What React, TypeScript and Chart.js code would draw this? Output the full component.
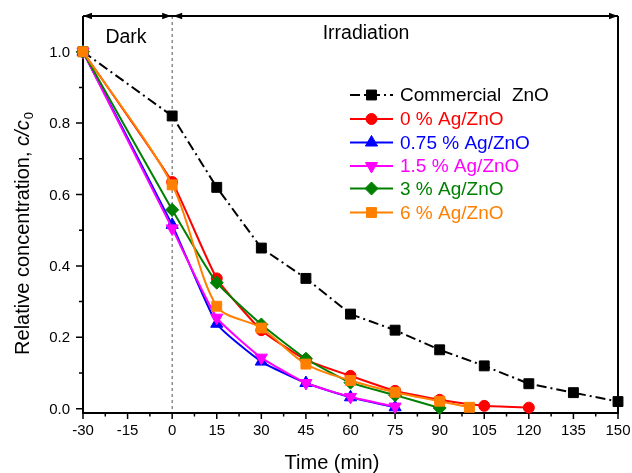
import React, { useEffect, useRef } from "react";
import { Chart, registerables } from "chart.js";

Chart.register(...registerables);

// ---- data ----
const timeCommercial = [-30, 0, 15, 30, 45, 60, 75, 90, 105, 120, 135, 150];
const commercialZnO = [1.0, 0.82, 0.62, 0.45, 0.365, 0.265, 0.22, 0.165, 0.12, 0.07, 0.045, 0.02];
const time0 = [-30, 0, 15, 30, 45, 60, 75, 90, 105, 120];
const ag0 = [1.0, 0.635, 0.365, 0.22, 0.137, 0.092, 0.05, 0.025, 0.008, 0.003];
const time075 = [-30, 0, 15, 30, 45, 60, 75];
const ag075 = [1.0, 0.515, 0.238, 0.132, 0.072, 0.032, 0.004];
const time15 = [-30, 0, 15, 30, 45, 60, 75];
const ag15 = [1.0, 0.505, 0.255, 0.143, 0.072, 0.033, 0.006];
const time3 = [-30, 0, 15, 30, 45, 60, 75, 90];
const ag3 = [1.0, 0.557, 0.353, 0.236, 0.14, 0.073, 0.038, 0.002];
const time6 = [-30, 0, 15, 30, 45, 60, 75, 90, 100];
const ag6 = [1.0, 0.627, 0.287, 0.226, 0.125, 0.079, 0.046, 0.021, 0.004];

const seriesLabels = ["Commercial  ZnO", "0 % Ag/ZnO", "0.75 % Ag/ZnO", "1.5 % Ag/ZnO", "3 % Ag/ZnO", "6 % Ag/ZnO"];
const seriesColors = ["#000000", "#ff0000", "#0000ff", "#ff00ff", "#008000", "#ff8000"];
const seriesMarkers = ["rect", "circle", "triangle", "triangleDown", "rectRot", "rect"];
const seriesRadius = [7, 5.5, 7, 7, 6.5, 7];
const seriesTension = [0, 0.15, 0.15, 0.15, 0.15, 0.3];

const xTicks = [-30, -15, 0, 15, 30, 45, 60, 75, 90, 105, 120, 135, 150];
const yTicks = [0, 0.2, 0.4, 0.6, 0.8, 1.0];
const yTickLabels = ["0.0", "0.2", "0.4", "0.6", "0.8", "1.0"];

const FONT = "'Liberation Sans', Arial, sans-serif";
const blackDash = [10, 4, 2, 4];

function zip(xs: number[], ys: number[]) {
  return xs.map((x, i) => ({ x, y: ys[i] }));
}

function drawMarker(ctx: CanvasRenderingContext2D, type: string, x: number, y: number, r: number, color: string) {
  ctx.save();
  ctx.setLineDash([]);
  ctx.fillStyle = color;
  ctx.strokeStyle = color;
  ctx.lineWidth = 1;
  ctx.beginPath();
  if (type === "circle") {
    ctx.arc(x, y, r, 0, Math.PI * 2);
  } else if (type === "rect") {
    const s = r * Math.SQRT1_2;
    ctx.rect(x - s, y - s, 2 * s, 2 * s);
  } else if (type === "rectRot") {
    ctx.moveTo(x, y - r);
    ctx.lineTo(x + r, y);
    ctx.lineTo(x, y + r);
    ctx.lineTo(x - r, y);
    ctx.closePath();
  } else if (type === "triangle" || type === "triangleDown") {
    const a0 = type === "triangle" ? 0 : Math.PI;
    for (let k = 0; k < 3; k++) {
      const a = a0 + (k * 2 * Math.PI) / 3;
      const px = x + Math.sin(a) * r;
      const py = y - Math.cos(a) * r;
      if (k === 0) ctx.moveTo(px, py);
      else ctx.lineTo(px, py);
    }
    ctx.closePath();
  }
  ctx.fill();
  ctx.stroke();
  ctx.restore();
}

function arrowHead(ctx: CanvasRenderingContext2D, tipX: number, y: number, dir: number) {
  const len = 9;
  const hw = 3.2;
  ctx.beginPath();
  ctx.moveTo(tipX, y);
  ctx.lineTo(tipX - dir * len, y - hw);
  ctx.lineTo(tipX - dir * len, y + hw);
  ctx.closePath();
  ctx.fill();
}

const framePlugin = {
  id: "framePlugin",
  beforeDatasetsDraw(chart: any) {
    const ctx: CanvasRenderingContext2D = chart.ctx;
    const { left: L, right: R, top: T, bottom: B } = chart.chartArea;
    const xs = chart.scales.x;
    const ys = chart.scales.y;
    ctx.save();
    // dotted separator at t = 0
    const x0 = xs.getPixelForValue(0);
    ctx.strokeStyle = "#555";
    ctx.lineWidth = 1;
    ctx.setLineDash([3, 3]);
    ctx.beginPath();
    ctx.moveTo(x0, T);
    ctx.lineTo(x0, B);
    ctx.stroke();
    ctx.setLineDash([]);

    // frame
    ctx.strokeStyle = "#000";
    ctx.fillStyle = "#000";
    ctx.lineWidth = 2;
    ctx.beginPath();
    ctx.moveTo(L, T);
    ctx.lineTo(L, B);
    ctx.lineTo(R, B);
    ctx.lineTo(R, T);
    ctx.stroke();
    ctx.beginPath();
    ctx.moveTo(L, T);
    ctx.lineTo(R, T);
    ctx.stroke();
    arrowHead(ctx, L, T, -1);
    arrowHead(ctx, x0 - 1, T, 1);
    arrowHead(ctx, x0 + 1, T, -1);
    arrowHead(ctx, R, T, 1);

    // x ticks
    ctx.lineWidth = 1.5;
    ctx.beginPath();
    for (let i = 0; i < xTicks.length; i++) {
      const px = xs.getPixelForValue(xTicks[i]);
      ctx.moveTo(px, B);
      ctx.lineTo(px, B + 6);
      if (i < xTicks.length - 1) {
        const pm = xs.getPixelForValue((xTicks[i] + xTicks[i + 1]) / 2);
        ctx.moveTo(pm, B);
        ctx.lineTo(pm, B + 3.5);
      }
    }
    // y ticks
    for (let i = 0; i < yTicks.length; i++) {
      const py = ys.getPixelForValue(yTicks[i]);
      ctx.moveTo(L, py);
      ctx.lineTo(L - 7, py);
      if (i < yTicks.length - 1) {
        const pm = ys.getPixelForValue((yTicks[i] + yTicks[i + 1]) / 2);
        ctx.moveTo(L, pm);
        ctx.lineTo(L - 4, pm);
      }
    }
    ctx.stroke();

    // tick labels
    ctx.fillStyle = "#000";
    ctx.font = `15px ${FONT}`;
    ctx.textAlign = "center";
    ctx.textBaseline = "top";
    xTicks.forEach((t) => {
      ctx.fillText(String(t), xs.getPixelForValue(t), B + 10);
    });
    ctx.textAlign = "right";
    ctx.textBaseline = "middle";
    yTicks.forEach((t, i) => {
      ctx.fillText(yTickLabels[i], L - 13, ys.getPixelForValue(t) + 1);
    });

    // x title
    ctx.font = `20px ${FONT}`;
    ctx.textAlign = "center";
    ctx.textBaseline = "alphabetic";
    ctx.fillText("Time (min)", 332, 469);

    // y title (rotated, with italic c/c and subscript 0)
    ctx.save();
    ctx.translate(29, 234);
    ctx.rotate(-Math.PI / 2);
    const partA = "Relative concentration, ";
    const partB = "c/c";
    const partC = "0";
    ctx.font = `20px ${FONT}`;
    const wA = ctx.measureText(partA).width;
    ctx.font = `italic 20px ${FONT}`;
    const wB = ctx.measureText(partB).width;
    ctx.font = `13px ${FONT}`;
    const wC = ctx.measureText(partC).width;
    const total = wA + wB + wC;
    let cx = -total / 2;
    ctx.textAlign = "left";
    ctx.font = `20px ${FONT}`;
    ctx.fillText(partA, cx, 0);
    cx += wA;
    ctx.font = `italic 20px ${FONT}`;
    ctx.fillText(partB, cx, 0);
    cx += wB;
    ctx.font = `13px ${FONT}`;
    ctx.fillText(partC, cx + 1, 4);
    ctx.restore();

    // region labels
    ctx.font = `19.5px ${FONT}`;
    ctx.textAlign = "center";
    ctx.textBaseline = "alphabetic";
    ctx.fillText("Dark", 126, 43);
    ctx.fillText("Irradiation", 366, 39);
    ctx.restore();
  },
  afterDraw(chart: any) {
    const ctx: CanvasRenderingContext2D = chart.ctx;
    ctx.save();
    const rowY = [95, 119, 142.5, 166, 188.5, 212.5];
    for (let i = 0; i < seriesLabels.length; i++) {
      const y = rowY[i];
      ctx.strokeStyle = seriesColors[i];
      ctx.lineWidth = 2;
      ctx.setLineDash(i === 0 ? blackDash : []);
      ctx.beginPath();
      ctx.moveTo(350, y);
      ctx.lineTo(393, y);
      ctx.stroke();
      ctx.setLineDash([]);
      drawMarker(ctx, seriesMarkers[i], 371.5, y, seriesRadius[i], seriesColors[i]);
      ctx.fillStyle = seriesColors[i];
      ctx.font = `19px ${FONT}`;
      ctx.textAlign = "left";
      ctx.textBaseline = "middle";
      ctx.fillText(seriesLabels[i], 400, y + 1);
    }
    ctx.restore();
  },
};

function pointStyleFor(m: string) {
  return m === "triangleDown" ? "triangle" : m;
}

export default function App() {
  const canvasRef = useRef<HTMLCanvasElement | null>(null);

  useEffect(() => {
    if (!canvasRef.current) return;
    const xsList = [timeCommercial, time0, time075, time15, time3, time6];
    const ysList = [commercialZnO, ag0, ag075, ag15, ag3, ag6];
    const datasets = xsList.map((xs, i) => ({
      label: seriesLabels[i],
      data: zip(xs, ysList[i]),
      borderColor: seriesColors[i],
      backgroundColor: seriesColors[i],
      borderWidth: 2,
      borderDash: i === 0 ? blackDash : [],
      pointStyle: pointStyleFor(seriesMarkers[i]),
      rotation: seriesMarkers[i] === "triangleDown" ? 180 : 0,
      pointRadius: seriesRadius[i],
      pointBorderWidth: 1,
      pointBorderColor: seriesColors[i],
      pointBackgroundColor: seriesColors[i],
      tension: seriesTension[i],
      clip: false,
      order: 10 - i,
    }));
    const chart = new Chart(canvasRef.current, {
      type: "line",
      data: { datasets: datasets as any },
      options: {
        animation: false,
        responsive: false,
        maintainAspectRatio: false,
        devicePixelRatio: 1,
        layout: { padding: { left: 83, right: 14, top: 16, bottom: 60 } },
        plugins: { legend: { display: false }, tooltip: { enabled: false } },
        scales: {
          x: { type: "linear", min: -30, max: 150, display: false },
          y: { type: "linear", min: -0.012, max: 1.1, display: false },
        },
      },
      plugins: [framePlugin],
    });
    return () => chart.destroy();
  }, []);

  return (
    <div style={{ position: "fixed", left: 0, top: 0, width: 632, height: 473, background: "#fff" }}>
      <canvas ref={canvasRef} width={632} height={473} style={{ width: 632, height: 473, display: "block" }} />
    </div>
  );
}
